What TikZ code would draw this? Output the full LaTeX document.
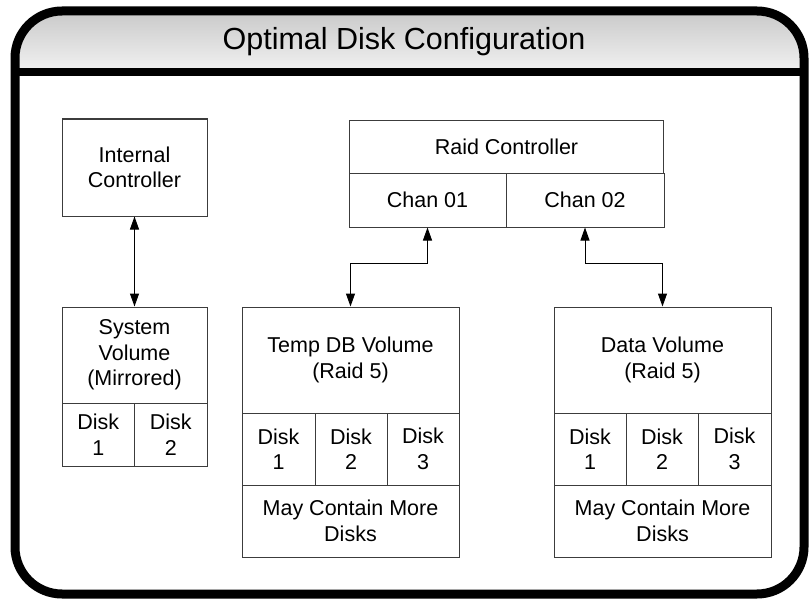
\documentclass[tikz,border=0pt]{standalone}
\usepackage{fontspec}
\setmainfont{Liberation Sans}
\usetikzlibrary{arrows.meta}
\definecolor{boxc}{RGB}{60,60,60}
\definecolor{hdtop}{RGB}{198,198,198}
\definecolor{hdbot}{RGB}{242,242,242}
\newcommand{\bodyfont}{\fontsize{21.5}{25.5}\selectfont}
\newcommand{\titlefont}{\fontsize{30.5}{35}\selectfont}
\tikzset{
  cell/.style={draw=boxc, line width=1pt, inner sep=0pt, align=center, font=\bodyfont},
  link/.style={line width=1pt, {Triangle[length=13pt,width=9pt]}-{Triangle[length=13pt,width=9pt]}},
  frame/.style={line width=9pt, rounded corners=47pt}
}
\begin{document}
\begin{tikzpicture}[x=1pt,y=-1pt]
\useasboundingbox (0,0) rectangle (812,602);
% header shading
\begin{scope}
  \clip[rounded corners=47pt] (15,11) rectangle (804,594);
  \shade[top color=hdtop, bottom color=hdbot] (10,6) rectangle (809,72);
\end{scope}
\node[font=\titlefont] (title) at (404,42) {Optimal Disk Configuration};
\draw[line width=8pt] (15,72) -- (804,72);
\draw[frame] (15,11) rectangle (804,594);

% Internal controller and system volume
\node[cell, minimum width=145pt, minimum height=97pt] (ic) at (134.5,167.5) {Internal\\Controller};
\node[cell, minimum width=145pt, minimum height=96pt] (sv) at (134.5,355) {System\\Volume\\(Mirrored)};
\node[cell, minimum width=72.7pt, minimum height=63pt] (svd1) at (98.35,434.5) {Disk\\1};
\node[cell, minimum width=72.3pt, minimum height=63pt] (svd2) at (170.85,434.5) {Disk\\2};

% Raid controller
\node[cell, minimum width=314pt, minimum height=53pt] (rc) at (506.5,146.5) {Raid Controller};
\node[cell, minimum width=157pt, minimum height=54pt] (c1) at (427.5,200) {Chan 01};
\node[cell, minimum width=158pt, minimum height=54pt] (c2) at (585,200) {Chan 02};

% Temp DB volume
\node[cell, minimum width=217pt, minimum height=106pt] (tdb) at (350.5,360) {Temp DB Volume\\(Raid 5)};
\node[cell, minimum width=73pt, minimum height=72pt] (td1) at (278.5,449) {Disk\\1};
\node[cell, minimum width=72pt, minimum height=72pt] (td2) at (351,449) {Disk\\2};
\node[cell, minimum width=72pt, minimum height=72pt] (td3) at (423,449) {Disk\\3};
\node[cell, minimum width=217pt, minimum height=72pt] (tdm) at (350.5,521) {May Contain More\\Disks};

% Data volume
\node[cell, minimum width=217pt, minimum height=106pt] (dv) at (662.5,360) {Data Volume\\(Raid 5)};
\node[cell, minimum width=72pt, minimum height=72pt] (dv1) at (590,449) {Disk\\1};
\node[cell, minimum width=72pt, minimum height=72pt] (dv2) at (662,449) {Disk\\2};
\node[cell, minimum width=73pt, minimum height=72pt] (dv3) at (734.5,449) {Disk\\3};
\node[cell, minimum width=217pt, minimum height=72pt] (dvm) at (662.5,521) {May Contain More\\Disks};

% connectors
\draw[link] (ic.south) -- (sv.north);
\draw[link] (c1.south) -- ++(0,36) -| (tdb.north);
\draw[link] (c2.south) -- ++(0,36) -| (dv.north);
\end{tikzpicture}
\end{document}
